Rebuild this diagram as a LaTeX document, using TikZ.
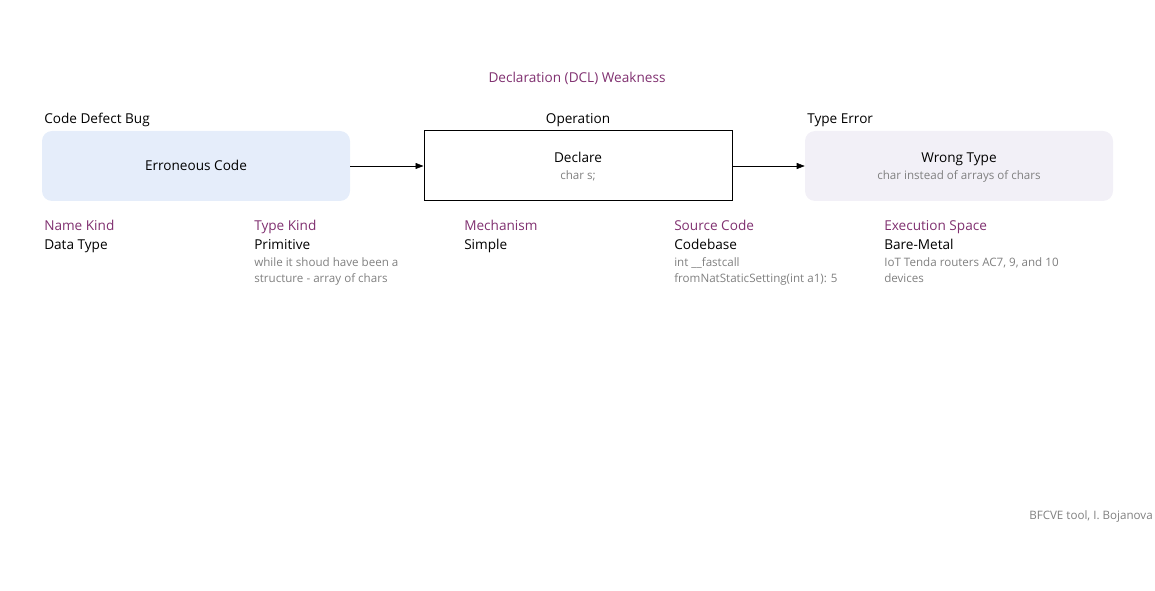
\documentclass[tikz,border=0pt]{standalone}
\usepackage{fontspec}
\setmainfont{Open Sans}
\usetikzlibrary{arrows.meta}
\definecolor{dclpurple}{RGB}{128,48,112}
\definecolor{notegray}{RGB}{128,128,128}
\definecolor{bugfill}{RGB}{229,237,250}
\definecolor{errfill}{RGB}{242,240,247}
\tikzset{
  maintext/.style={font=\fontsize{10.2}{12}\selectfont, text=black, inner sep=0pt},
  headtext/.style={font=\fontsize{10.2}{12}\selectfont, text=dclpurple, inner sep=0pt},
  notetext/.style={font=\fontsize{8.7}{12}\selectfont, text=notegray, inner sep=0pt, align=left},
  statebox/.style={rounded corners=7.5pt, minimum width=231pt, minimum height=52.5pt, inner sep=0pt},
  operbox/.style={draw=black, line width=0.75pt, minimum width=231pt, minimum height=52.5pt, inner sep=0pt},
}
\begin{document}
\begin{tikzpicture}[x=0.75pt,y=-0.75pt]
		\useasboundingbox (0,0) rectangle (1155,591);
		\node [headtext, anchor=base] (title) at (577,83) {Declaration (DCL) Weakness};

		% cause, operation, result
		\node [maintext, anchor=base west] (buglabel) at (44,124) {Code Defect Bug};
		\node [statebox, fill=bugfill] (bug) at (196,166) {};
		\node [maintext, anchor=base] (bugtext) at (196,171) {Erroneous Code};

		\node [maintext, anchor=base] (operlabel) at (578,124) {Operation};
		\node [operbox] (oper) at (578,166) {};
		\node [maintext, anchor=base] (opertext) at (578,163) {Declare};
		\node [notetext, anchor=base] (opernote) at (578,180) {char s;};

		\node [maintext, anchor=base west] (errlabel) at (807,124) {Type Error};
		\node [statebox, fill=errfill] (err) at (959,166) {};
		\node [maintext, anchor=base] (errtext) at (959,163) {Wrong Type};
		\node [notetext, anchor=base] (errnote) at (959,180) {char instead of arrays of chars};

		\draw [-{Triangle[length=6pt,width=4.5pt]}] (bug.east) -- (oper.west);
		\draw [-{Triangle[length=6pt,width=4.5pt]}] (oper.east) -- (err.west);

		% attributes (two-line notes sit on their last baseline)
		\node [headtext, anchor=base west] (namekind) at (44,231) {Name Kind};
		\node [maintext, anchor=base west] (namekindval) at (44,250) {Data Type};

		\node [headtext, anchor=base west] (typekind) at (254,231) {Type Kind};
		\node [maintext, anchor=base west] (typekindval) at (254,250) {Primitive};
		\node [notetext, anchor=base west] (typekindnote) at (254,283) {while it shoud have been a\\structure - array of chars};

		\node [headtext, anchor=base west] (mech) at (464,231) {Mechanism};
		\node [maintext, anchor=base west] (mechval) at (464,250) {Simple};

		\node [headtext, anchor=base west] (source) at (674,231) {Source Code};
		\node [maintext, anchor=base west] (sourceval) at (674,250) {Codebase};
		\node [notetext, anchor=base west] (sourcenote) at (674,283) {int \_\_fastcall\\fromNatStaticSetting(int a1): 5};

		\node [headtext, anchor=base west] (space) at (884,231) {Execution Space};
		\node [maintext, anchor=base west] (spaceval) at (884,250) {Bare-Metal};
		\node [notetext, anchor=base west] (spacenote) at (884,283) {IoT Tenda routers AC7, 9, and 10\\devices};

		\node [notetext, anchor=base east] (credit) at (1153,519) {BFCVE tool, I. Bojanova};
\end{tikzpicture}
\end{document}
